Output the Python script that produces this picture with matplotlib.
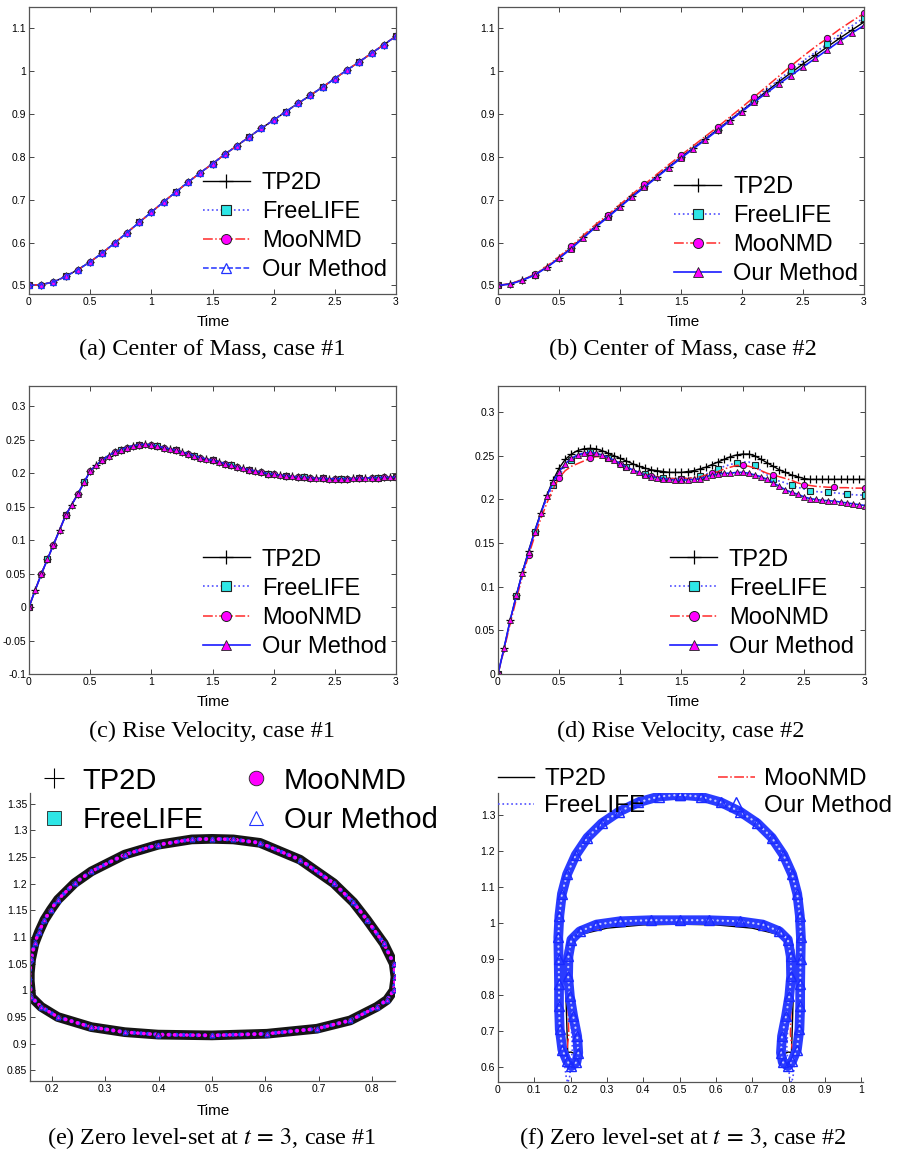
import numpy as np
import matplotlib.pyplot as plt
from matplotlib.ticker import FuncFormatter, MultipleLocator

plt.rcParams['font.family'] = ['Liberation Sans', 'DejaVu Sans']
plt.rcParams['mathtext.fontset'] = 'stix'

labels = ['TP2D', 'FreeLIFE', 'MooNMD', 'Our Method']

# (a) centre of mass, case 1 (all methods coincide), sampled every 0.1
t10 = np.round(np.linspace(0, 3, 31), 2)
com1 = [0.500, 0.502, 0.508, 0.521, 0.537, 0.555, 0.576, 0.599, 0.623, 0.647,
        0.671, 0.695, 0.718, 0.741, 0.763, 0.784, 0.806, 0.826, 0.847, 0.867,
        0.886, 0.906, 0.925, 0.944, 0.963, 0.983, 1.003, 1.022, 1.042, 1.062, 1.082]

# (b) centre of mass, case 2
com2_tp = [0.500, 0.504, 0.513, 0.525, 0.543, 0.564, 0.588, 0.613, 0.638, 0.661,
           0.685, 0.709, 0.731, 0.754, 0.777, 0.799, 0.821, 0.842, 0.864, 0.886,
           0.908, 0.931, 0.953, 0.975, 0.996, 1.017, 1.037, 1.057, 1.077, 1.096, 1.115]
com2_fl = [0.500, 0.504, 0.513, 0.525, 0.543, 0.564, 0.588, 0.614, 0.639, 0.661,
           0.685, 0.710, 0.732, 0.755, 0.778, 0.800, 0.822, 0.843, 0.865, 0.887,
           0.909, 0.933, 0.957, 0.980, 1.002, 1.024, 1.044, 1.064, 1.086, 1.106, 1.125]
com2_mo = [0.500, 0.504, 0.513, 0.526, 0.545, 0.567, 0.591, 0.617, 0.642, 0.665,
           0.689, 0.713, 0.736, 0.759, 0.782, 0.804, 0.826, 0.848, 0.870, 0.893,
           0.916, 0.940, 0.964, 0.988, 1.012, 1.035, 1.057, 1.077, 1.098, 1.117, 1.135]
com2_om = [0.500, 0.503, 0.512, 0.524, 0.542, 0.563, 0.586, 0.611, 0.636, 0.659,
           0.683, 0.707, 0.729, 0.752, 0.775, 0.797, 0.819, 0.840, 0.862, 0.884,
           0.906, 0.928, 0.949, 0.970, 0.990, 1.010, 1.030, 1.050, 1.070, 1.089, 1.107]

# (c) rise velocity, case 1, sampled every 0.05
t05 = np.round(np.linspace(0, 3, 61), 2)
vel1 = [0.000, 0.025, 0.049, 0.071, 0.093, 0.115, 0.137, 0.153, 0.169, 0.186,
        0.203, 0.212, 0.219, 0.226, 0.231, 0.235, 0.238, 0.241, 0.242, 0.243,
        0.242, 0.240, 0.238, 0.236, 0.234, 0.231, 0.229, 0.226, 0.223, 0.221,
        0.219, 0.217, 0.214, 0.212, 0.209, 0.207, 0.205, 0.203, 0.201, 0.199,
        0.198, 0.197, 0.196, 0.195, 0.194, 0.1935, 0.193, 0.192, 0.192, 0.1915,
        0.1915, 0.1915, 0.1915, 0.192, 0.192, 0.1925, 0.193, 0.193, 0.1935, 0.1935,
        0.194]

# (d) rise velocity, case 2
vel2_tp = [0.000, 0.030, 0.062, 0.090, 0.117, 0.141, 0.164, 0.185, 0.205, 0.222,
           0.236, 0.246, 0.252, 0.256, 0.258, 0.2585, 0.258, 0.256, 0.253, 0.250,
           0.247, 0.244, 0.241, 0.238, 0.236, 0.234, 0.233, 0.232, 0.231, 0.231,
           0.231, 0.232, 0.233, 0.235, 0.237, 0.240, 0.243, 0.246, 0.249, 0.251,
           0.252, 0.252, 0.250, 0.246, 0.242, 0.238, 0.234, 0.231, 0.228, 0.226,
           0.224, 0.223, 0.223, 0.223, 0.223, 0.223, 0.223, 0.223, 0.223, 0.223,
           0.223]
vel2_fl = [0.000, 0.030, 0.062, 0.089, 0.116, 0.140, 0.163, 0.183, 0.202, 0.216,
           0.228, 0.238, 0.245, 0.250, 0.253, 0.254, 0.2535, 0.252, 0.248, 0.244,
           0.240, 0.237, 0.234, 0.231, 0.229, 0.227, 0.226, 0.225, 0.224, 0.224,
           0.224, 0.2245, 0.225, 0.227, 0.229, 0.232, 0.235, 0.238, 0.240, 0.242,
           0.243, 0.243, 0.239, 0.233, 0.228, 0.224, 0.221, 0.219, 0.216, 0.214,
           0.212, 0.210, 0.209, 0.2085, 0.208, 0.2075, 0.207, 0.206, 0.2055, 0.205,
           0.205]
vel2_mo = [0.000, 0.028, 0.058, 0.086, 0.112, 0.136, 0.158, 0.178, 0.196, 0.212,
           0.225, 0.233, 0.238, 0.241, 0.244, 0.247, 0.249, 0.249, 0.247, 0.244,
           0.241, 0.237, 0.234, 0.231, 0.229, 0.227, 0.226, 0.225, 0.224, 0.224,
           0.224, 0.224, 0.225, 0.226, 0.228, 0.230, 0.232, 0.235, 0.237, 0.239,
           0.239, 0.238, 0.236, 0.233, 0.230, 0.228, 0.226, 0.224, 0.222, 0.219,
           0.217, 0.216, 0.215, 0.2145, 0.214, 0.214, 0.2135, 0.2135, 0.213, 0.213,
           0.213]
vel2_om = [0.000, 0.030, 0.062, 0.090, 0.116, 0.140, 0.163, 0.184, 0.204, 0.220,
           0.232, 0.241, 0.247, 0.251, 0.253, 0.254, 0.253, 0.251, 0.248, 0.245,
           0.241, 0.237, 0.234, 0.231, 0.228, 0.226, 0.225, 0.224, 0.223, 0.222,
           0.222, 0.2225, 0.223, 0.224, 0.226, 0.228, 0.229, 0.230, 0.230, 0.231,
           0.231, 0.230, 0.228, 0.226, 0.223, 0.219, 0.215, 0.211, 0.208, 0.206,
           0.203, 0.201, 0.200, 0.199, 0.1985, 0.198, 0.197, 0.196, 0.195, 0.194,
           0.193]

# (e) zero level-set, case 1 (all methods coincide)
shape1_x = [0.158, 0.161, 0.1675, 0.176, 0.186, 0.198, 0.2113, 0.2426, 0.274, 0.3366,
            0.399, 0.462, 0.500, 0.540, 0.590, 0.665, 0.728, 0.765, 0.7906, 0.822,
            0.8406, 0.8438, 0.8406, 0.828, 0.809, 0.759, 0.6967, 0.603, 0.500, 0.399,
            0.3366, 0.274, 0.211, 0.180, 0.1613, 0.158]
shape1_y = [1.025, 1.058, 1.088, 1.110, 1.132, 1.151, 1.170, 1.201, 1.223, 1.2545,
            1.273, 1.283, 1.284, 1.283, 1.2765, 1.245, 1.201, 1.165, 1.132, 1.088,
            1.050, 1.025, 1.000, 0.982, 0.969, 0.9436, 0.928, 0.9186, 0.9155, 0.917,
            0.9216, 0.931, 0.950, 0.969, 0.9875, 1.025]

# (f) zero level-set, case 2
om_f_x = [0.500, 0.442, 0.386, 0.333, 0.286, 0.246, 0.214, 0.190, 0.176, 0.169,
          0.166, 0.167, 0.168, 0.168, 0.170, 0.177, 0.190, 0.202, 0.216, 0.221,
          0.218, 0.207, 0.198, 0.193, 0.194, 0.202, 0.225, 0.271, 0.335, 0.420,
          0.500, 0.580, 0.665, 0.729, 0.775, 0.798, 0.806, 0.807, 0.802, 0.793,
          0.782, 0.779, 0.784, 0.798, 0.810, 0.823, 0.830, 0.832, 0.832, 0.833,
          0.834, 0.831, 0.824, 0.810, 0.786, 0.754, 0.714, 0.667, 0.614, 0.558, 0.500]
om_f_y = [1.355, 1.350, 1.334, 1.308, 1.276, 1.236, 1.188, 1.134, 1.080, 1.020,
          0.960, 0.900, 0.830, 0.768, 0.704, 0.648, 0.616, 0.602, 0.613, 0.639,
          0.685, 0.741, 0.796, 0.852, 0.907, 0.953, 0.976, 0.995, 1.004, 1.007,
          1.007, 1.007, 1.004, 0.995, 0.976, 0.953, 0.907, 0.852, 0.796, 0.741,
          0.685, 0.639, 0.613, 0.602, 0.616, 0.648, 0.704, 0.768, 0.830, 0.900,
          0.960, 1.020, 1.080, 1.134, 1.188, 1.236, 1.276, 1.308, 1.334, 1.350, 1.355]
tp_f_x = [0.500, 0.381, 0.308, 0.253, 0.216, 0.188, 0.175, 0.170, 0.170, 0.172,
          0.178, 0.186, 0.194, 0.205, 0.215, 0.219, 0.213, 0.201, 0.192, 0.190,
          0.187, 0.185, 0.186, 0.196, 0.230, 0.300, 0.400, 0.500, 0.600, 0.700,
          0.770, 0.804, 0.814, 0.815, 0.813, 0.810, 0.808, 0.799, 0.787, 0.781,
          0.785, 0.795, 0.806, 0.814, 0.822, 0.828, 0.830, 0.830, 0.825, 0.812,
          0.784, 0.747, 0.692, 0.619, 0.500]
tp_f_y = [1.355, 1.332, 1.300, 1.249, 1.184, 1.110, 1.050, 0.980, 0.900, 0.780,
          0.690, 0.635, 0.607, 0.600, 0.608, 0.622, 0.636, 0.641, 0.640, 0.700,
          0.800, 0.880, 0.925, 0.950, 0.968, 0.985, 0.994, 0.996, 0.994, 0.985,
          0.968, 0.950, 0.925, 0.880, 0.800, 0.700, 0.640, 0.641, 0.636, 0.622,
          0.608, 0.600, 0.607, 0.635, 0.690, 0.780, 0.900, 0.980, 1.050, 1.110,
          1.184, 1.249, 1.300, 1.332, 1.355]
mo_f_x = [0.500, 0.381, 0.308, 0.253, 0.216, 0.188, 0.172, 0.165, 0.168, 0.171,
          0.176, 0.183, 0.190, 0.195, 0.193, 0.190, 0.190, 0.200, 0.230, 0.300,
          0.400, 0.500, 0.600, 0.700, 0.770, 0.800, 0.810, 0.810, 0.807, 0.805,
          0.810, 0.817, 0.824, 0.829, 0.832, 0.835, 0.828, 0.812, 0.784, 0.747,
          0.692, 0.619, 0.500]
mo_f_y = [1.355, 1.332, 1.300, 1.249, 1.184, 1.110, 1.040, 0.970, 0.900, 0.800,
          0.720, 0.660, 0.650, 0.690, 0.760, 0.850, 0.930, 0.952, 0.970, 0.990,
          0.998, 1.000, 0.998, 0.990, 0.970, 0.952, 0.930, 0.850, 0.760, 0.690,
          0.650, 0.660, 0.720, 0.800, 0.900, 0.970, 1.040, 1.110, 1.184, 1.249,
          1.300, 1.332, 1.355]
fl_f_x = [0.500, 0.381, 0.308, 0.253, 0.216, 0.188, 0.175, 0.168, 0.167, 0.169,
          0.175, 0.183, 0.188, 0.192, 0.197, 0.200, 0.205, 0.200, 0.195, 0.196,
          0.205, 0.240, 0.320, 0.420, 0.500, 0.580, 0.680, 0.760, 0.795, 0.804,
          0.805, 0.800, 0.795, 0.800, 0.803, 0.808, 0.812, 0.817, 0.825, 0.831,
          0.833, 0.832, 0.825, 0.812, 0.784, 0.747, 0.692, 0.619, 0.500]
fl_f_y = [1.355, 1.332, 1.300, 1.249, 1.184, 1.110, 1.055, 1.000, 0.900, 0.780,
          0.680, 0.610, 0.570, 0.556, 0.570, 0.600, 0.650, 0.750, 0.850, 0.920,
          0.955, 0.980, 0.998, 1.004, 1.005, 1.004, 0.998, 0.980, 0.955, 0.920,
          0.850, 0.750, 0.650, 0.600, 0.570, 0.556, 0.570, 0.610, 0.680, 0.780,
          0.900, 1.000, 1.055, 1.110, 1.184, 1.249, 1.300, 1.332, 1.355]

W, H = 909, 1153
fig = plt.figure(figsize=(W / 100, H / 100), dpi=100)


def add_ax(l, r, t, b):
    return fig.add_axes([l / W, 1 - b / H, (r - l) / W, (b - t) / H])


fmt = FuncFormatter(lambda v, p: f'{round(v, 3):g}')


def style(ax, box=True):
    ax.tick_params(direction='in', length=3.5, width=0.7, labelsize=7.5, pad=2,
                   color='#444444', labelcolor='black', top=box, right=box)
    for s in ax.spines.values():
        s.set_color('#555555')
        s.set_linewidth(0.9)
    if not box:
        ax.spines['top'].set_visible(False)
        ax.spines['right'].set_visible(False)
    ax.xaxis.set_major_formatter(fmt)
    ax.yaxis.set_major_formatter(fmt)


S_TP = dict(color='black', lw=1.0, marker='+', ms=6, mew=0.9)
S_FL = dict(color='#4d4dff', lw=1.2, ls=':', marker='s', ms=4.5, mfc='#2ee6e6', mec='#222222', mew=0.8)
S_MO = dict(color='#ff2a2a', lw=1.1, ls='-.', marker='o', ms=4.5, mfc='#ff00ff', mec='#222222', mew=0.7)
S_OM_dash = dict(color='#2233ff', lw=1.1, ls='--', marker='^', ms=4.5, mfc='none', mec='#2233ff', mew=0.9)
S_OM = dict(color='#1a1aff', lw=1.2, ls='-', marker='^', ms=4.5, mfc='#ff00ff', mec='#222222', mew=0.6)


def curves(ax, t, ys, styles, marks):
    for y, st, lab, me in zip(ys, styles, labels, marks):
        ax.plot(t, y, label=lab, markevery=me, **st)


def top_legend(ax, anchor):
    ax.legend(loc='lower right', bbox_to_anchor=anchor, frameon=False, fontsize=17,
              handlelength=2.0, handletextpad=0.5, labelspacing=0.3,
              borderaxespad=0, borderpad=0, markerscale=1.6)


def time_axes(ax, ylo, yhi, ystep):
    style(ax)
    ax.set_xlim(0, 3)
    ax.set_ylim(ylo, yhi)
    ax.xaxis.set_major_locator(MultipleLocator(0.5))
    ax.yaxis.set_major_locator(MultipleLocator(ystep))


# (a)
ax = add_ax(29, 396, 7, 294)
curves(ax, t10, [com1] * 4, [S_TP, S_FL, S_MO, S_OM_dash], [1, (0, 3), 1, 1])
time_axes(ax, 0.48, 1.15, 0.1)
top_legend(ax, (0.975, 0.045))

# (b)
ax = add_ax(498, 864, 7, 294)
curves(ax, t10, [com2_tp, com2_fl, com2_mo, com2_om], [S_TP, S_FL, S_MO, S_OM], [1, (0, 3), (0, 3), 1])
time_axes(ax, 0.48, 1.15, 0.1)
top_legend(ax, (0.984, 0.03))

# (c)
ax = add_ax(29, 396, 386, 674)
curves(ax, t05, [vel1] * 4, [S_TP, S_FL, S_MO, S_OM], [1, (0, 3), 2, 1])
time_axes(ax, -0.1, 0.33, 0.05)
top_legend(ax, (0.975, 0.056))

# (d)
ax = add_ax(498, 865, 386, 674)
curves(ax, t05, [vel2_tp, vel2_fl, vel2_mo, vel2_om], [S_TP, S_FL, S_MO, S_OM], [1, (0, 3), (0, 5), 1])
time_axes(ax, 0, 0.33, 0.05)
top_legend(ax, (0.97, 0.056))

# (e)
ax = add_ax(30, 395, 793, 1081)
style(ax, box=False)
ax.plot(shape1_x, shape1_y, color='#151515', lw=7.0, solid_joinstyle='round')
ax.plot(shape1_x, shape1_y, color='#2a3cff', lw=3.0, ls=(0, (0.1, 1.6)), dash_capstyle='round')
ax.plot(shape1_x, shape1_y, color='#ff00ff', lw=2.6, ls=(0.9, (0.1, 1.6)), dash_capstyle='round')
ax.plot(shape1_x, shape1_y, ls='none', marker='+', color='black', ms=5, mew=0.8, label='TP2D')
ax.plot(shape1_x, shape1_y, ls='none', marker='s', ms=3.5, mfc='#2ee6e6', mec='#222222', mew=0.6, label='FreeLIFE')
ax.plot(shape1_x, shape1_y, ls='none', marker='o', ms=3.5, mfc='#ff00ff', mec='#222222', mew=0.6, label='MooNMD')
ax.plot(shape1_x, shape1_y, ls='none', marker='^', ms=3.5, mfc='none', mec='#2233ff', mew=0.8, label='Our Method')
ax.set_xlim(0.159, 0.843)
ax.set_ylim(0.83, 1.37)
ax.xaxis.set_major_locator(MultipleLocator(0.1))
ax.yaxis.set_major_locator(MultipleLocator(0.05))
ax.legend(loc='upper left', bbox_to_anchor=(0.027, 1.092), ncol=2, frameon=False, fontsize=21,
          handlelength=1.0, handletextpad=0.45, labelspacing=0.4, columnspacing=1.3,
          borderaxespad=0, borderpad=0, markerscale=3)

# (f)
ax = add_ax(498, 863, 793, 1082)
style(ax, box=False)
ax.plot(tp_f_x, tp_f_y, color='black', lw=1.0, label='TP2D')
ax.plot(fl_f_x, fl_f_y, color='#4d4dff', lw=1.2, ls=':', label='FreeLIFE')
ax.plot(mo_f_x, mo_f_y, color='#ff2a2a', lw=1.1, ls='-.', label='MooNMD')
ax.plot(om_f_x, om_f_y, color='#2a3cff', lw=7.0, solid_joinstyle='round')
ax.plot(om_f_x, om_f_y, color='#c8ccff', lw=1.6, ls=(0, (0.1, 2.2)), dash_capstyle='round')
ax.plot(om_f_x, om_f_y, ls='none', marker='^', ms=6.5, mfc='none', mec='#1a2aff', mew=1.0, label='Our Method')
ax.set_xlim(0, 1.005)
ax.set_ylim(0.558, 1.36)
ax.xaxis.set_major_locator(MultipleLocator(0.1))
ax.yaxis.set_major_locator(MultipleLocator(0.1))
ax.legend(loc='upper left', bbox_to_anchor=(0.0, 1.085), ncol=2, frameon=False, fontsize=17.5,
          handlelength=1.5, handletextpad=0.4, labelspacing=0.2, columnspacing=3.0,
          borderaxespad=0, borderpad=0, markerscale=1.5)

# x labels and captions
for x, y in [(213, 322), (683, 322), (213, 702), (683, 702), (213, 1111)]:
    fig.text(x / W, 1 - y / H, 'Time', ha='center', va='center', fontsize=11)

captions = [(212, 349, '(a) Center of Mass, case #1'),
            (683, 349, '(b) Center of Mass, case #2'),
            (212, 731, '(c) Rise Velocity, case #1'),
            (681, 731, '(d) Rise Velocity, case #2'),
            (212, 1138, '(e) Zero level-set at $t\\,=\\,3$, case #1'),
            (683, 1138, '(f) Zero level-set at $t\\,=\\,3$, case #2')]
for x, y, s in captions:
    fig.text(x / W, 1 - y / H, s, ha='center', va='center', fontsize=17.5,
             family=['Liberation Serif', 'DejaVu Serif'])

fig.savefig('out.png', dpi=100)
